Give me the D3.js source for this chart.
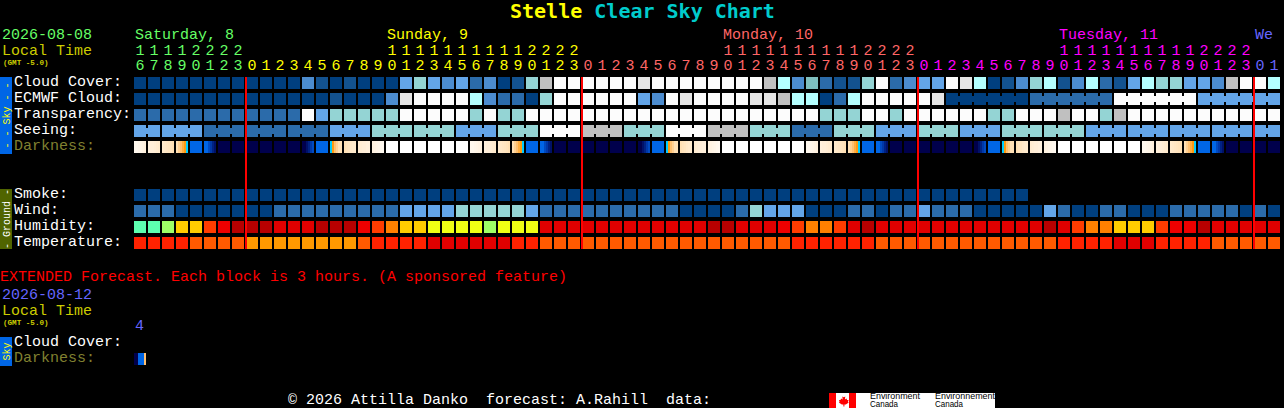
<!DOCTYPE html>
<html><head><meta charset="utf-8">
<script src="https://cdn.jsdelivr.net/npm/d3@7"></script>
<style>
html,body{margin:0;padding:0;background:#000;overflow:hidden}
svg{display:block}
text{font-family:"Liberation Mono",monospace;font-size:15px;white-space:pre}
</style></head><body><svg id="c" width="1284" height="408"></svg>
<script>
const hours=[16,17,18,19,20,21,22,23,
0,1,2,3,4,5,6,7,8,9,10,11,12,13,14,15,16,17,18,19,20,21,22,23,
0,1,2,3,4,5,6,7,8,9,10,11,12,13,14,15,16,17,18,19,20,21,22,23,
0,1,2,3,4,5,6,7,8,9,10,11,12,13,14,15,16,17,18,19,20,21,22,23,
0,1];
const dayNames=["Saturday, 8","Sunday, 9","Monday, 10","Tuesday, 11","We"];
const dayLabelCols=[0,18,42,66,80];
const dayStartCols=[0,8,32,56,80];
const rowsSky=["Cloud Cover:","ECMWF Cloud:","Transparency:","Seeing:","Darkness:"];
const rowsGround=["Smoke:","Wind:","Humidity:","Temperature:"];
const cloudCover=[0,0,0,0,0,0,0,0,0,0,
0,0,30,10,0,10,0,0,0,40,
60,40,30,40,20,30,0,10,60,80,
100,100,100,100,100,100,90,100,100,100,
100,100,100,100,100,80,70,30,50,20,
10,10,60,100,20,30,40,40,100,90,
70,0,10,30,60,70,10,30,70,20,
10,40,70,60,60,40,40,30,80,100,
100,70];
const ecmwfCloud=[0,0,0,0,0,0,0,0,0,0,
0,0,0,0,10,0,0,0,30,90,
100,100,100,100,70,30,20,20,0,60,
100,100,100,100,100,100,40,30,100,90,
100,100,100,100,90,90,80,70,70,0,
20,70,100,100,100,100,100,90,0,0,
0,0,0,0,20,20,20,20,20,20,
100,100,100,100,100,100,40,40,40,40,
40,40];
const transparency=[20,20,20,20,20,20,20,20,20,20,
20,20,100,40,60,60,60,60,60,100,
100,100,100,100,60,100,60,60,100,100,
100,100,100,100,100,100,100,100,100,100,
100,100,100,100,100,100,100,100,100,60,
60,60,100,100,60,100,100,100,100,100,
100,60,60,100,100,100,80,100,100,60,
80,100,100,100,100,100,100,100,100,100,
100,100];
const seeing=[40,40,40,40,40,20,20,20,20,20,
20,20,20,20,40,40,40,60,60,60,
60,60,60,40,40,40,60,60,60,100,
100,100,80,80,80,60,60,60,100,100,
100,80,80,80,60,60,60,20,20,20,
60,60,60,40,40,40,60,60,60,40,
40,40,60,60,60,60,60,60,40,40,
40,40,40,40,40,40,40,40,40,40,
40,40];
const seeingBlocks=[[0,1],[2,4],[5,7],[8,10],[11,13],[14,16],[17,19],[20,22],[23,25],[26,28],[29,31],[32,34],[35,37],[38,40],[41,43],[44,46],[47,49],[50,52],[53,55],[56,58],[59,61],[62,64],[65,67],[68,70],[71,73],[74,76],[77,79],[80,81]];
const ecmwfBlocks=[[58,63],[64,69],[70,75],[76,81]];
const darkness=[
[7.5,7.5,7.4,7.3,7.2,7],[7,6.9,6.9,6.8,6.7,6.6],[6.6,6.5,6.4,6.3,6.2,6],[6,5.5,5,4.5,4,3],[2,2,2,2,2,2],[2,2,1.4,1,.6,.3],[0,0,0,0,0,0],[0,0,0,0,0,0],
[0,0,0,0,0,0],[0,0,0,0,0,0],[0,0,0,0,0,0],[0,0,0,0,0,0],[0,0,.3,.6,1,1.4],[2,2,2,2,2,2],[3,4,5,5.5,6,6],[6,6.2,6.3,6.5,6.6,6.6],[6.7,6.8,6.9,6.9,7,7],[7.1,7.2,7.3,7.4,7.5,7.6],
[8,8,8,8,8,8],[8,8,8,8,8,8],[8,8,8,8,8,8],[8,8,8,8,8,8],[8,8,8,8,8,8],[8,8,8,8,8,8],
[7.5,7.5,7.4,7.3,7.2,7],[7,6.9,6.9,6.8,6.7,6.6],[6.6,6.5,6.4,6.3,6.2,6],[6,5.5,5,4.5,4,3],[2,2,2,2,2,2],[2,2,1.4,1,.6,.3],[0,0,0,0,0,0],[0,0,0,0,0,0],
[0,0,0,0,0,0],[0,0,0,0,0,0],[0,0,0,0,0,0],[0,0,0,0,0,0],[0,0,.3,.6,1,1.4],[2,2,2,2,2,2],[3,4,5,5.5,6,6],[6,6.2,6.3,6.5,6.6,6.6],[6.7,6.8,6.9,6.9,7,7],[7.1,7.2,7.3,7.4,7.5,7.6],
[8,8,8,8,8,8],[8,8,8,8,8,8],[8,8,8,8,8,8],[8,8,8,8,8,8],[8,8,8,8,8,8],[8,8,8,8,8,8],
[7.5,7.5,7.4,7.3,7.2,7],[7,6.9,6.9,6.8,6.7,6.6],[6.6,6.5,6.4,6.3,6.2,6],[6,5.5,5,4.5,4,3],[2,2,2,2,2,2],[2,2,1.4,1,.6,.3],[0,0,0,0,0,0],[0,0,0,0,0,0],
[0,0,0,0,0,0],[0,0,0,0,0,0],[0,0,0,0,0,0],[0,0,0,0,0,0],[0,0,.3,.6,1,1.4],[2,2,2,2,2,2],[3,4,5,5.5,6,6],[6,6.2,6.3,6.5,6.6,6.6],[6.7,6.8,6.9,6.9,7,7],[7.1,7.2,7.3,7.4,7.5,7.6],
[8,8,8,8,8,8],[8,8,8,8,8,8],[8,8,8,8,8,8],[8,8,8,8,8,8],[8,8,8,8,8,8],[8,8,8,8,8,8],
[7.5,7.5,7.4,7.3,7.2,7],[7,6.9,6.9,6.8,6.7,6.6],[6.6,6.5,6.4,6.3,6.2,6],[6,5.5,5,4.5,4,3],[2,2,2,2,2,2],[2,2,1.4,1,.6,.3],[0,0,0,0,0,0],[0,0,0,0,0,0],
[0,0,0,0,0,0],[0,0,0,0,0,0]];
const smoke=[0,0,0,0,0,0,0,0,0,0,0,0,0,0,0,0,0,0,0,0,0,0,0,0,0,0,0,0,0,0,0,0,
0,0,0,0,0,0,0,0,0,0,0,0,0,0,0,0,0,0,0,0,0,0,0,0,0,0,0,0,0,0,0,0];
const wind=[15,15,15,5,5,5,5,5,5,5,
15,15,15,15,15,15,15,15,15,20,
20,20,20,30,30,30,30,30,20,15,
15,15,15,15,15,15,15,15,15,5,
5,5,5,15,30,20,20,20,5,5,
5,15,15,5,15,15,20,15,15,15,
5,5,5,5,5,20,15,5,5,15,
15,5,5,5,15,15,15,15,15,5,
15,5];
const humidity=[40,40,45,55,55,65,70,90,90,90,
80,80,80,90,90,90,70,65,60,55,
55,50,50,50,50,45,50,50,50,80,
80,80,80,80,80,80,80,80,80,80,
80,90,90,80,80,80,70,65,60,60,
65,80,90,80,80,80,80,80,80,80,
80,80,80,80,80,90,80,65,60,60,
55,55,55,65,70,70,90,80,80,80,
80,80];
const temperature=[25,25,25,25,20,20,20,20,15,15,
15,15,15,15,15,15,20,25,25,25,
25,30,30,30,30,30,30,25,25,20,
20,20,20,20,20,20,20,20,20,20,
20,20,20,20,20,20,20,25,25,25,
25,25,25,20,20,20,20,20,20,20,
20,20,20,20,20,20,25,25,25,25,
30,30,30,25,25,25,25,20,20,20,
20,20];
const extendedDarkness=[[0,0,2,2,2,5]];

const svg=d3.select("#c");
svg.append("rect").attr("width",1284).attr("height",408).attr("fill","#000");

const xBand=d3.scaleBand().domain(d3.range(hours.length)).range([134,1280]).paddingInner(1/7).paddingOuter(0);
const x=i=>Math.round(xBand(i));
const BW=Math.round(xBand.bandwidth()), STEP=Math.round(xBand.step());
const ySkyB=d3.scaleBand().domain(rowsSky).range([77,153]).paddingInner(.25).paddingOuter(0);
const yGroundB=d3.scaleBand().domain(rowsGround).range([189,249]).paddingInner(.25).paddingOuter(0);
const ySky=r=>Math.round(ySkyB(r)), yGround=r=>Math.round(yGroundB(r));
const H=Math.round(ySkyB.bandwidth());

const levelColor=d3.scaleOrdinal().domain([0,10,20,30,40,50,60,70,80,90,100])
 .range(["#003f7f","#13528f","#2b6baa","#4c8ccf","#63a5e8","#7fbfbf","#94d4d4","#b4ffff","#c0c0c0","#e6e6e6","#fcfcfc"]);
const windColor=d3.scaleOrdinal().domain([5,15,20,30]).range(["#003f7f","#2b6baa","#63a5e8","#94d4d4"]);
const humidityColor=d3.scaleOrdinal().domain([40,45,50,55,60,65,70,80,90])
 .range(["#5dffb0","#9eff66","#f0ff14","#ffcc00","#ff8000","#ff3c00","#ee0000","#e00000","#b80000"]);
const tempColor=d3.scaleOrdinal().domain([15,20,25,30]).range(["#ff9900","#ff5a00","#ff2200","#e00000"]);
const darkColor=d3.scaleLinear().domain([0,1,2,3,4,5,6,7,8])
 .range(["#00004c","#0038a8","#0066e6","#00ccff","#ff9a10","#ffc070","#ffe0b4","#fff0dc","#ffffff"]);

function blockRow(values,y,color,blocks){
  const g=svg.append("g");
  g.selectAll("rect.cell").data(values).join("rect").attr("class","cell")
   .attr("x",(d,i)=>x(i)).attr("y",y).attr("width",BW).attr("height",H)
   .attr("fill",d=>color(d)).attr("shape-rendering","crispEdges");
  if(blocks){
    const links=[];
    blocks.forEach(([a,b])=>{for(let i=a;i<b;i++)links.push(i);});
    g.selectAll("rect.link").data(links).join("rect").attr("class","link")
     .attr("x",i=>x(i)+BW).attr("y",y+3).attr("width",STEP-BW).attr("height",H-6)
     .attr("fill",i=>color(values[i])).attr("shape-rendering","crispEdges");
  }
}
function darkRow(samples,y){
  const g=svg.append("g");
  const sw=BW/6;
  samples.forEach((s,i)=>{
    g.append("g").selectAll("rect").data(s).join("rect")
     .attr("x",(d,k)=>x(i)+k*sw).attr("y",y).attr("width",sw).attr("height",H)
     .attr("fill",d=>darkColor(d)).attr("shape-rendering","crispEdges");
  });
}
blockRow(cloudCover,ySky("Cloud Cover:"),levelColor);
blockRow(ecmwfCloud,ySky("ECMWF Cloud:"),levelColor,ecmwfBlocks);
blockRow(transparency,ySky("Transparency:"),levelColor);
blockRow(seeing,ySky("Seeing:"),levelColor,seeingBlocks);
darkRow(darkness,ySky("Darkness:"));
blockRow(smoke,yGround("Smoke:"),levelColor);
blockRow(wind,yGround("Wind:"),windColor);
blockRow(humidity,yGround("Humidity:"),humidityColor);
blockRow(temperature,yGround("Temperature:"),tempColor);

// midnight markers
svg.append("g").selectAll("rect").data(hours.map((h,i)=>[h,i]).filter(d=>d[0]===0))
 .join("rect").attr("x",d=>x(d[1])-1).attr("y",77).attr("width",2).attr("height",172)
 .attr("fill","#ff0000").attr("shape-rendering","crispEdges");

function t(s,px,py,fill){
  return svg.append("text").attr("x",px).attr("y",py).attr("fill",fill).text(s);
}
// title
const title=svg.append("text").attr("x",510).attr("y",18).style("font-weight","bold").style("font-size","20px")
 .style("font-family","'DejaVu Sans Mono',monospace");
title.append("tspan").attr("fill","#ffff00").text("Stelle ");
title.append("tspan").attr("fill","#00cccc").text("Clear Sky Chart");

// row labels
const rowLabelColor={"Darkness:":"#808030"};
rowsSky.forEach(r=>t(r,14,ySky(r)+9,rowLabelColor[r]||"#fff"));
rowsGround.forEach(r=>t(r,14,yGround(r)+9,"#fff"));

// date, time
const dayColors=["#66ff66","#ffff00","#ff6666","#ff00ff","#6666ff"];
function dayOf(i){return d3.bisectRight(dayStartCols,i)-1;}
t("2026-08-08",2,39,dayColors[0]);
t("Local Time",2,55,"#cccc00");
function gmt(py){svg.append("text").attr("x",3).attr("y",py).attr("fill","#cccc00").style("font-size","7.6px").style("font-weight","bold").text("(GMT -5.0)");}
gmt(65);
dayNames.forEach((n,i)=>t(n,x(dayLabelCols[i])+1,39,dayColors[i]));

// hour axes
function hourAxis(py,fmt,vals){
  const a=d3.axisTop(xBand).tickSize(0).tickPadding(0).tickValues(vals).tickFormat(fmt);
  const g=svg.append("g").attr("transform",`translate(0,${py})`).call(a);
  g.select(".domain").remove();
  g.selectAll("text").attr("fill",d=>dayColors[dayOf(d)]).style("font-family","'Liberation Mono',monospace").style("font-size","15px");
}
hourAxis(55,i=>String(Math.floor(hours[i]/10)),d3.range(hours.length).filter(i=>hours[i]>=10));
hourAxis(70,i=>String(hours[i]%10),d3.range(hours.length));

// side bars
function sideBar(y0,h,fill,label,col){
  svg.append("rect").attr("x",0).attr("y",y0).attr("width",12).attr("height",h).attr("fill",fill).attr("shape-rendering","crispEdges");
  svg.append("text").attr("transform",`translate(9.5,${y0+h/2}) rotate(-90)`).attr("text-anchor","middle")
   .attr("fill",col).style("font-size","10px").text(label);
}
sideBar(77,77,"#0066e6","- - Sky - -","#ffff00");
sideBar(189,60,"#506400","- Ground -","#ffffff");

// extended
t("EXTENDED Forecast. Each block is 3 hours. (A sponsored feature)",0,281,"#ff0000");
t("2026-08-12",2,299,"#6666ff");
t("Local Time",2,315,"#cccc00");
gmt(325);
t("4",x(0)+1,330,"#6666ff");
sideBar(337,29,"#0066e6","Sky","#ffff00");
t("Cloud Cover:",14,346,"#fff");
t("Darkness:",14,362,"#808030");
darkRow(extendedDarkness,353);

// footer
t("© 2026 Attilla Danko  forecast: A.Rahill  data:",288,404,"#fff");
const logo=svg.append("g");
logo.append("rect").attr("x",829).attr("y",393).attr("width",166).attr("height",15).attr("fill","#fff");
logo.append("rect").attr("x",829).attr("y",393).attr("width",7).attr("height",15).attr("fill","#ff0000");
logo.append("rect").attr("x",849).attr("y",393).attr("width",7).attr("height",15).attr("fill","#ff0000");
logo.append("path").attr("d","M842.5 395l1.3 2.2 1.5-.6-.4 3 1.6-1 .6 1.5 1.5-.2-.6 2 .8.5-3 2.2-1.4-.2 0 2h-1l0-2-1.6.2-3-2.2.8-.5-.6-2 1.5.2.6-1.5 1.6 1-.4-3 1.5.6z").attr("fill","#ff0000");
[["Environment",870,399,50],["Canada",870,407,28],["Environnement",935,399,60],["Canada",935,407,28]].forEach(([s,a,b,l])=>{
  svg.append("text").attr("x",a).attr("y",b).attr("fill","#000").attr("textLength",l).attr("lengthAdjust","spacingAndGlyphs")
   .style("font-family","'Liberation Sans',sans-serif").style("font-size","9px").text(s);
});
</script></body></html>
